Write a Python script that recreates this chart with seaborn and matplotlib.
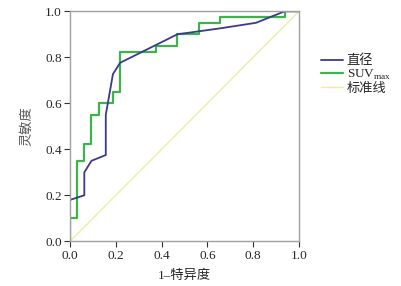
import matplotlib
matplotlib.use("Agg")
import matplotlib.pyplot as plt
import seaborn as sns
import pandas as pd

# Data
diam_fpr = [0.0, 0.0, 2/32, 2/32, 3/32, 5/32, 5/32, 6/32, 7/32, 15/32, 21/32, 26/32, 30/32, 1.0]
diam_tpr = [0.0, 0.18, 0.20, 0.30, 0.35, 0.375, 0.55, 0.727, 0.776, 0.90, 0.926, 0.95, 1.0, 1.0]

suv_fpr = [0.0, 0.0, 1/32, 1/32, 2/32, 2/32, 3/32, 3/32, 4/32, 4/32, 6/32, 6/32, 7/32, 7/32,
           12/32, 12/32, 15/32, 15/32, 18/32, 18/32, 21/32, 21/32, 30/32, 30/32, 1.0]
suv_tpr = [0.0, 0.10, 0.10, 0.35, 0.35, 0.425, 0.425, 0.55, 0.55, 0.60, 0.60, 0.65, 0.65, 0.825,
           0.825, 0.85, 0.85, 0.90, 0.90, 0.95, 0.95, 0.975, 0.975, 1.0, 1.0]

ref_x = [0.0, 1.0]
ref_y = [0.0, 1.0]

labels = ["直径", "SUV$_{\\mathrm{max}}$", "标准线"]
ticks = [0.0, 0.2, 0.4, 0.6, 0.8, 1.0]
tick_labels = ["0.0", "0.2", "0.4", "0.6", "0.8", "1.0"]
xlabel = "1\u2013特异度"
ylabel = "灵敏度"

sns.set_style("white")
plt.rcParams['font.family'] = ['Liberation Serif', 'Noto Sans CJK SC', 'DejaVu Sans']
plt.rcParams['mathtext.fontset'] = 'custom'
plt.rcParams['mathtext.rm'] = 'Liberation Serif'

fig = plt.figure(figsize=(4.01, 2.86), dpi=100)
ax = fig.add_axes([70/401, (286-241.3)/286, 229/401, 230/286])

df1 = pd.DataFrame({"x": diam_fpr, "y": diam_tpr})
df2 = pd.DataFrame({"x": suv_fpr, "y": suv_tpr})
df3 = pd.DataFrame({"x": ref_x, "y": ref_y})

sns.lineplot(data=df3, x="x", y="y", sort=False, estimator=None, ax=ax,
             color="#eeeea0", linewidth=1.0, label=labels[2])
sns.lineplot(data=df2, x="x", y="y", sort=False, estimator=None, ax=ax,
             color="#3db34a", linewidth=1.6, label=labels[1])
sns.lineplot(data=df1, x="x", y="y", sort=False, estimator=None, ax=ax,
             color="#3a3a8c", linewidth=1.3, label=labels[0])

ax.set_xlim(0, 1)
ax.set_ylim(0, 1)
ax.set_xticks(ticks)
ax.set_xticklabels(tick_labels)
ax.set_yticks(ticks)
ax.set_yticklabels(tick_labels)
ax.tick_params(axis="both", direction="out", length=4, width=0.8, color="#333333",
               labelsize=9.5, pad=2, bottom=True, left=True)
for s in ax.spines.values():
    s.set_color("#a0a0a0")
    s.set_linewidth(1.0)

ax.set_xlabel(xlabel, family=['Liberation Serif', 'Noto Sans CJK SC'], fontsize=9.5, labelpad=6)
ax.set_ylabel(ylabel, family=['Noto Sans CJK SC'], fontsize=9.5, labelpad=8, color="#555555")

handles, lbls = ax.get_legend_handles_labels()
order = [2, 1, 0]
leg = ax.legend([handles[i] for i in order], [lbls[i] for i in order],
                loc="upper left", bbox_to_anchor=(1.075, 0.835), frameon=False,
                fontsize=9.5, handlelength=1.6, handletextpad=0.3, labelspacing=0.05,
                borderaxespad=0)
for t in leg.get_texts():
    t.set_family(['Liberation Serif', 'Noto Sans CJK SC'])

fig.savefig("out.png", dpi=100)
